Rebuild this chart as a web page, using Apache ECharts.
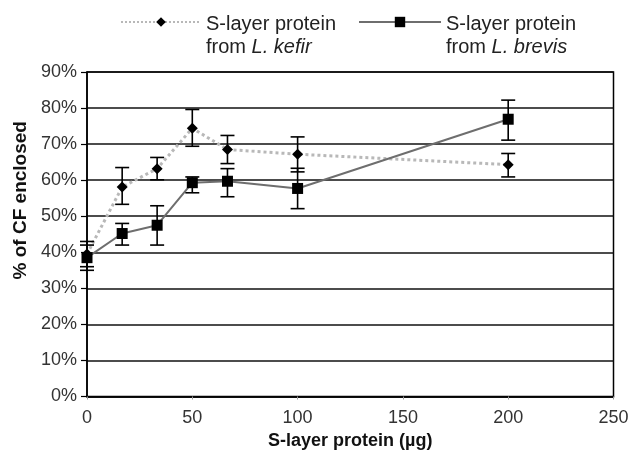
<!DOCTYPE html>
<html>
<head>
<meta charset="utf-8">
<script src="https://cdn.jsdelivr.net/npm/echarts@6/dist/echarts.min.js"></script>
<style>
html,body{margin:0;padding:0;background:#fff;}
#c{width:629px;height:454px;}
</style>
</head>
<body>
<div id="c"></div>
<script>
// ---- data ----
const xValues = [0, 16.7, 33.3, 50, 66.7, 100, 200];

const kefirMean = [39.5, 58.1, 63.2, 74.4, 68.5, 67.2, 64.3];
const kefirLow  = [36.0, 53.3, 60.1, 69.4, 64.6, 62.3, 60.9];
const kefirHigh = [43.0, 63.5, 66.3, 79.6, 72.4, 72.0, 67.4];

const brevisMean = [38.5, 45.2, 47.5, 59.3, 59.7, 57.7, 76.9];
const brevisLow  = [35.0, 42.0, 42.0, 56.5, 55.4, 52.1, 71.1];
const brevisHigh = [42.0, 48.0, 52.9, 60.9, 63.2, 63.3, 82.2];

const yTicks = [0, 10, 20, 30, 40, 50, 60, 70, 80, 90];
const xTicks = [0, 50, 100, 150, 200, 250];

const kefirName = 'S-layer protein from L. kefir';
const brevisName = 'S-layer protein from L. brevis';

// ---- build ----
const kefirData = xValues.map((x, i) => [x, kefirMean[i]]);
const brevisData = xValues.map((x, i) => [x, brevisMean[i]]);
const kefirErr = xValues.map((x, i) => [x, kefirLow[i], kefirHigh[i]]);
const brevisErr = xValues.map((x, i) => [x, brevisLow[i], brevisHigh[i]]);

function errorBar(params, api) {
  const x = api.value(0), lo = api.value(1), hi = api.value(2);
  const pHi = api.coord([x, hi]);
  const pLo = api.coord([x, lo]);
  const w = 7;
  const st = { stroke: '#000', lineWidth: 1.6 };
  return {
    type: 'group',
    children: [
      { type: 'line', shape: { x1: pHi[0], y1: pHi[1], x2: pLo[0], y2: pLo[1] }, style: st },
      { type: 'line', shape: { x1: pHi[0] - w, y1: pHi[1], x2: pHi[0] + w, y2: pHi[1] }, style: st },
      { type: 'line', shape: { x1: pLo[0] - w, y1: pLo[1], x2: pLo[0] + w, y2: pLo[1] }, style: st }
    ]
  };
}

const FONT = 'Liberation Sans, Arial, Helvetica, sans-serif';

const legendText = {
  color: '#222',
  fontFamily: FONT,
  fontSize: 20,
  lineHeight: 23,
  padding: [28, 0, 0, 0],
  rich: {
    n: { fontSize: 20, fontFamily: FONT, color: '#222', lineHeight: 23 },
    i: { fontSize: 20, fontFamily: FONT, color: '#222', fontStyle: 'italic', lineHeight: 23 }
  }
};

const chart = echarts.init(document.getElementById('c'), null, { renderer: 'canvas' });
chart.setOption({
  animation: false,
  backgroundColor: '#fff',
  legend: [
    {
      data: [kefirName],
      left: 120, top: -15, padding: 0,
      itemWidth: 80, itemHeight: 12,
      textStyle: legendText,
      formatter: () => '{n|S-layer protein}\n{n|from }{i|L. kefir}'
    },
    {
      data: [brevisName],
      left: 358, top: -15, padding: 0,
      itemWidth: 82, itemHeight: 13,
      textStyle: legendText,
      formatter: () => '{n|S-layer protein}\n{n|from }{i|L. brevis}'
    }
  ],
  grid: {
    left: 87, right: 15.5, top: 72, bottom: 57.5,
    show: true, borderColor: '#000', borderWidth: 1.5,
    outerBoundsMode: 'none', containLabel: false
  },
  xAxis: {
    type: 'value',
    min: xTicks[0], max: xTicks[xTicks.length - 1], interval: 50,
    name: 'S-layer protein (\u00b5g)',
    nameLocation: 'middle', nameGap: 33,
    nameTextStyle: { fontFamily: FONT, fontSize: 18, fontWeight: 'bold', color: '#111' },
    axisLine: { show: true, lineStyle: { color: '#000', width: 1.5 } },
    axisTick: { show: true, length: 3, lineStyle: { color: '#999', width: 1 } },
    axisLabel: { margin: 13, fontFamily: FONT, fontSize: 18, color: '#333',
      customValues: xTicks },
    splitLine: { show: false }
  },
  yAxis: {
    type: 'value',
    min: yTicks[0], max: yTicks[yTicks.length - 1], interval: 10,
    name: '% of CF enclosed',
    nameLocation: 'middle', nameGap: 55,
    nameTextStyle: { fontFamily: FONT, fontSize: 19, fontWeight: 'bold', color: '#111',
      padding: [0, 0, 0, 68] },
    axisLine: { show: true, lineStyle: { color: '#000', width: 1.5 } },
    axisTick: { show: true, length: 6, lineStyle: { color: '#000', width: 1.2 } },
    axisLabel: { margin: 10, fontFamily: FONT, fontSize: 18, color: '#333',
      formatter: v => v + '%' },
    splitLine: { show: true, lineStyle: { color: '#111', width: 1.6 } }
  },
  series: [
    {
      name: kefirName, type: 'line', data: kefirData,
      symbol: 'diamond', symbolSize: 11,
      itemStyle: { color: '#000' },
      lineStyle: { type: 'dotted', color: '#b8b8b8', width: 3 },
      z: 3, clip: false
    },
    {
      name: brevisName, type: 'line', data: brevisData,
      symbol: 'rect', symbolSize: 11,
      itemStyle: { color: '#000' },
      lineStyle: { type: 'solid', color: '#6e6e6e', width: 2 },
      z: 3, clip: false
    },
    {
      name: 'kefirErr', type: 'custom', data: kefirErr, renderItem: errorBar,
      encode: { x: 0, y: [1, 2] }, z: 4, clip: false, silent: true
    },
    {
      name: 'brevisErr', type: 'custom', data: brevisErr, renderItem: errorBar,
      encode: { x: 0, y: [1, 2] }, z: 4, clip: false, silent: true
    }
  ]
});
</script>
</body>
</html>
